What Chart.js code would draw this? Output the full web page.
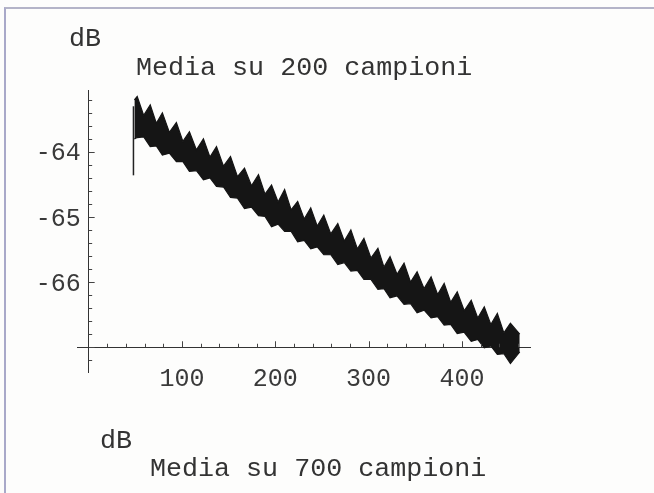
<!DOCTYPE html>
<html>
<head>
<meta charset="utf-8">
<script src="https://cdn.jsdelivr.net/npm/chart.js@4.4.1/dist/chart.umd.min.js"></script>
<style>
  html, body { margin: 0; padding: 0; background: #fff; }
  #wrap { position: relative; width: 654px; height: 493px; overflow: hidden; background: #fdfdfc; }
  #frame { position: absolute; left: 4px; top: 7px; right: -4px; bottom: -4px;
           border-left: 2px solid #a9a9c9; border-top: 2px solid #b4b4c8; }
  canvas { position: absolute; left: 0; top: 0; }
  .lbl { position: absolute; font-family: "Liberation Mono", "Courier New", monospace;
         font-size: 26.7px; color: #333; white-space: pre; line-height: 1; }
</style>
</head>
<body>
<div id="wrap">
  <div id="frame"></div>
  <canvas id="c" width="654" height="493"></canvas>
  <div class="lbl" style="left:69px; top:26px;">dB</div>
  <div class="lbl" style="left:136px; top:55px;">Media su 200 campioni</div>
  <div class="lbl" style="left:100px; top:428px;">dB</div>
  <div class="lbl" style="left:150px; top:456px;">Media su 700 campioni</div>
</div>
<script>
// Running mean over 200 samples, dB. Band = fast ripple envelope.
const lobeX      = [52, 66, 79, 94, 108, 123, 137, 152, 167, 182, 196, 210, 224, 238, 252, 267, 281, 295, 310, 323, 338, 352, 367, 381, 395, 410, 424, 438, 452];
const lobeTop    = [-63.15, -63.28, -63.40, -63.55, -63.69, -63.80, -63.92, -64.07, -64.25, -64.35, -64.51, -64.58, -64.76, -64.86, -64.97, -65.10, -65.20, -65.33, -65.48, -65.61, -65.71, -65.84, -65.92, -66.02, -66.15, -66.28, -66.38, -66.48, -66.63];
const lobeBottom = [-63.78, -63.92, -64.05, -64.15, -64.30, -64.43, -64.53, -64.70, -64.87, -64.98, -65.15, -65.22, -65.38, -65.49, -65.58, -65.73, -65.83, -65.96, -66.11, -66.24, -66.34, -66.47, -66.55, -66.66, -66.79, -66.91, -67.01, -67.11, -67.25];
const notchX      = [59, 72.5, 86.5, 101, 115.5, 130, 144.5, 159.5, 174.5, 189, 203, 217, 231, 245, 259.5, 274, 288, 302.5, 316.5, 330.5, 345, 359.5, 374, 388, 402.5, 417, 431, 445, 462];
const notchTop    = [-63.44, -63.56, -63.70, -63.84, -63.97, -64.08, -64.22, -64.38, -64.52, -64.65, -64.77, -64.89, -65.03, -65.14, -65.26, -65.37, -65.49, -65.63, -65.77, -65.88, -66.00, -66.10, -66.19, -66.31, -66.44, -66.55, -66.65, -66.78, -66.80];
const notchBottom = [-63.77, -63.91, -64.02, -64.15, -64.29, -64.40, -64.54, -64.71, -64.85, -64.99, -65.11, -65.22, -65.36, -65.46, -65.58, -65.70, -65.82, -65.96, -66.10, -66.21, -66.33, -66.43, -66.53, -66.65, -66.77, -66.88, -66.98, -67.10, -67.07];

// first samples: jump from the low start value up into the band
const startX = [48, 48];
const startY = [-64.36, -63.3];
const bandStart = { x: 49, top: -63.2, bottom: -63.8 };

const xTickLabels = [100, 200, 300, 400];
const yTickLabels = [-64, -65, -66];

const upper = [{ x: bandStart.x, y: bandStart.top }];
const lower = [{ x: bandStart.x, y: bandStart.bottom }];
lobeX.forEach((x, i) => {
    upper.push({ x: x, y: lobeTop[i] });
    lower.push({ x: x, y: lobeBottom[i] });
    upper.push({ x: notchX[i], y: notchTop[i] });
    lower.push({ x: notchX[i], y: notchBottom[i] });
});
const start = startX.map((x, i) => ({ x: x, y: startY[i] }));

const INK = '#151515';
const TXT = '#3a3a3a';
const FONT = '"Liberation Mono", "Courier New", monospace';

// Mathematica style: inward ticks at the axis crossing, y labels left of the axis
const axisTicks = {
    id: 'axisTicks',
    afterDraw(chart) {
        const xs = chart.scales.x, ys = chart.scales.y, c = chart.ctx;
        const x0 = xs.getPixelForValue(0), y0 = ys.getPixelForValue(-67);
        c.save();
        c.strokeStyle = '#444';
        c.lineWidth = 1;
        c.beginPath();
        for (let v = 20; v <= 460; v += 20) {
            const p = Math.round(xs.getPixelForValue(v)) + 0.5;
            const len = v % 100 === 0 ? 6 : 3.5;
            c.moveTo(p, y0); c.lineTo(p, y0 - len);
        }
        for (let k = -336; k <= -316; k++) {
            const v = k / 5;
            const p = Math.round(ys.getPixelForValue(v)) + 0.5;
            const len = k % 5 === 0 ? 6 : 3.5;
            c.moveTo(x0, p); c.lineTo(x0 + len, p);
        }
        c.stroke();

        c.fillStyle = TXT;
        c.font = '25px ' + FONT;
        c.textAlign = 'right';
        c.textBaseline = 'middle';
        yTickLabels.forEach(v => c.fillText(String(v), x0 - 8, ys.getPixelForValue(v) + 2));
        c.restore();
    }
};

new Chart(document.getElementById('c'), {
    type: 'line',
    data: {
        datasets: [
            { data: upper, borderColor: INK, borderWidth: 1.2, pointRadius: 0, fill: false, tension: 0 },
            { data: lower, borderColor: INK, borderWidth: 1.2, pointRadius: 0, fill: '-1', backgroundColor: INK, tension: 0 },
            { data: start, borderColor: '#222', borderWidth: 1.5, pointRadius: 0, fill: false }
        ]
    },
    options: {
        responsive: false,
        animation: false,
        layout: { padding: { left: 77, right: 124, top: 90, bottom: 121 } },
        plugins: { legend: { display: false }, tooltip: { enabled: false } },
        scales: {
            x: {
                type: 'linear',
                min: -12.5,
                max: 473,
                position: { y: -67 },
                grid: { display: false, drawTicks: false },
                border: { display: true, color: '#333', width: 1 },
                afterBuildTicks: (s) => { s.ticks = xTickLabels.map(v => ({ value: v })); },
                ticks: { color: TXT, font: { family: FONT, size: 25 }, padding: 17, maxRotation: 0 }
            },
            y: {
                type: 'linear',
                min: -67.38,
                max: -63.05,
                position: { x: 0 },
                grid: { display: false, drawTicks: false },
                border: { display: true, color: '#333', width: 1 },
                afterBuildTicks: (s) => { s.ticks = yTickLabels.map(v => ({ value: v })); },
                ticks: { display: false }
            }
        }
    },
    plugins: [axisTicks]
});
</script>
</body>
</html>
